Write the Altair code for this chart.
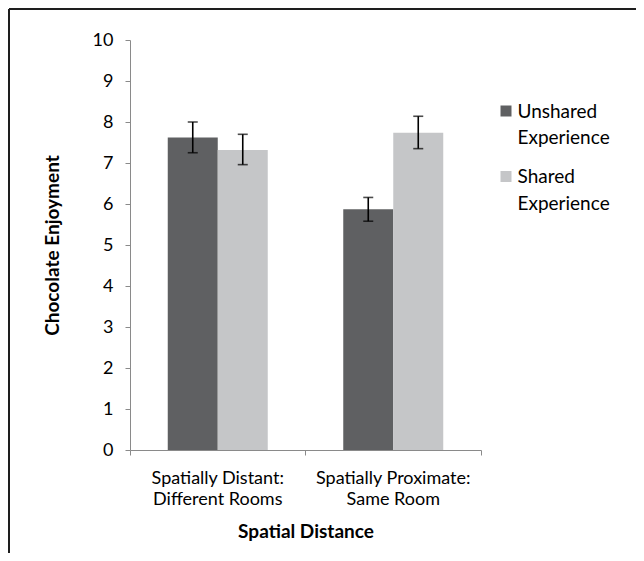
import altair as alt
import pandas as pd

conditions = ["Spatially Distant:\nDifferent Rooms", "Spatially Proximate:\nSame Room"]
series = ["Unshared Experience", "Shared Experience"]
colors = ["#5f6062", "#c5c6c8"]

unshared_mean = [7.62, 5.87]
shared_mean = [7.32, 7.74]
unshared_lo = [7.25, 5.58]
unshared_hi = [8.00, 6.16]
shared_lo = [6.96, 7.35]
shared_hi = [7.70, 8.14]

y_ticks = list(range(0, 11))

rows = []
for i, c in enumerate(conditions):
    rows.append({"cond": c, "series": series[0], "mean": unshared_mean[i],
                 "lo": unshared_lo[i], "hi": unshared_hi[i]})
    rows.append({"cond": c, "series": series[1], "mean": shared_mean[i],
                 "lo": shared_lo[i], "hi": shared_hi[i]})
df = pd.DataFrame(rows)
legend_df = pd.DataFrame({"series": series})

W, H = 351, 410
FONT = "Lato"
AXIS_GRAY = "#8a8a8a"

x_enc = alt.X(
    "cond:N",
    sort=conditions,
    scale=alt.Scale(paddingInner=0, paddingOuter=0),
    axis=alt.Axis(
        title="Spatial Distance",
        labelExpr="split(datum.label, '\\n')",
        labelAngle=0,
        bandPosition=1,
        tickExtra=True,
        tickSize=5,
        labelPadding=14,
        labelLineHeight=21,
        labelFontSize=18,
        labelColor="#000000",
        labelFont=FONT,
        domainColor=AXIS_GRAY,
        tickColor=AXIS_GRAY,
        titleFont=FONT,
        titleFontSize=19,
        titleFontWeight="bold",
        titleColor="#000000",
        titlePadding=14,
    ),
)
xoff_enc = alt.XOffset("series:N", sort=series,
                       scale=alt.Scale(paddingInner=0, paddingOuter=0.755))

y_scale = alt.Scale(domain=[0, 10], nice=False)
color_scale = alt.Scale(domain=series, range=colors)

bars = alt.Chart(df).mark_bar().encode(
    x=x_enc,
    xOffset=xoff_enc,
    y=alt.Y(
        "mean:Q",
        scale=y_scale,
        axis=alt.Axis(
            title="Chocolate Enjoyment",
            values=y_ticks,
            grid=False,
            tickSize=5,
            labelPadding=12,
            labelFontSize=18,
            labelColor="#000000",
            labelFont=FONT,
            domainColor=AXIS_GRAY,
            tickColor=AXIS_GRAY,
            titleFont=FONT,
            titleFontSize=19,
            titleFontWeight="bold",
            titleColor="#000000",
            titlePadding=30,
        ),
    ),
    color=alt.Color("series:N", sort=series, scale=color_scale, legend=None),
)

stems = alt.Chart(df).mark_rule(color="#000000", strokeWidth=1.6).encode(
    x=alt.X("cond:N", sort=conditions),
    xOffset=alt.XOffset("series:N", sort=series),
    y=alt.Y("lo:Q", scale=y_scale),
    y2="hi:Q",
)
caps_lo = alt.Chart(df).mark_tick(color="#000000", size=10, thickness=1.6).encode(
    x=alt.X("cond:N", sort=conditions),
    xOffset=alt.XOffset("series:N", sort=series),
    y=alt.Y("lo:Q", scale=y_scale),
)
caps_hi = alt.Chart(df).mark_tick(color="#000000", size=10, thickness=1.6).encode(
    x=alt.X("cond:N", sort=conditions),
    xOffset=alt.XOffset("series:N", sort=series),
    y=alt.Y("hi:Q", scale=y_scale),
)

plot = alt.layer(bars, stems, caps_lo, caps_hi)

# legend (swatch + two-line label), positioned to the right of the plot
leg_y = alt.Y("series:N", sort=series,
              scale=alt.Scale(type="point", domain=series, range=[71, 136.5], padding=0),
              axis=None)
leg_swatch = alt.Chart(legend_df).mark_square(size=121, opacity=1).encode(
    x=alt.value(376),
    y=leg_y,
    color=alt.Color("series:N", sort=series, scale=color_scale, legend=None),
)
leg_text = alt.Chart(legend_df).mark_text(
    align="left", baseline="alphabetic", dy=6.5, lineBreak=" ", lineHeight=26.5,
    font=FONT, fontSize=19, color="#000000",
).encode(
    x=alt.value(387.5),
    y=leg_y,
    text="series:N",
)
legend = alt.layer(leg_swatch, leg_text)

one = pd.DataFrame({"a": [0]})
border_left = alt.Chart(one).mark_rule(color="#1e1e1e", strokeWidth=2).encode(
    x=alt.value(-121), y=alt.value(-31), y2=alt.value(530)
)
border_top = alt.Chart(one).mark_rule(color="#1e1e1e", strokeWidth=2).encode(
    x=alt.value(-121), x2=alt.value(520), y=alt.value(-31)
)

chart = alt.layer(plot, legend, border_left, border_top).resolve_scale(
    y="independent"
).properties(
    width=W,
    height=H,
    autosize="none",
    padding={"left": 122, "top": 32, "right": 155, "bottom": 103},
    background="white",
).configure_view(stroke=None)

chart.save("out.html", embed_options={"renderer": "svg", "actions": False})
